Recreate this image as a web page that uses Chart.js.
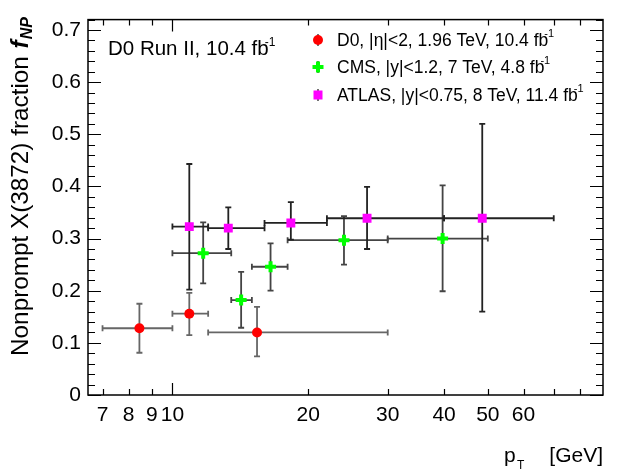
<!DOCTYPE html>
<html><head><meta charset="utf-8">
<script src="https://cdn.jsdelivr.net/npm/chart.js@4"></script>
<style>html,body{margin:0;padding:0;background:#fff}#c{display:block}</style>
</head><body>
<canvas id="c" width="628" height="472"></canvas>
<script>
// ---- data ----
const d0X = [8.45, 10.9, 15.4];
const d0XLo = [7, 10, 12];
const d0XHi = [10, 12, 30];
const d0Y = [0.128, 0.156, 0.120];
const d0YLo = [0.081, 0.115, 0.074];
const d0YHi = [0.175, 0.196, 0.169];

const cmsX = [11.7, 14.2, 16.5, 24.0, 39.7];
const cmsXLo = [10, 13.5, 15, 18, 30];
const cmsXHi = [13.5, 15, 18, 30, 50];
const cmsY = [0.272, 0.182, 0.246, 0.297, 0.300];
const cmsYLo = [0.214, 0.129, 0.200, 0.250, 0.199];
const cmsYHi = [0.331, 0.236, 0.291, 0.343, 0.402];

const atlasX = [10.9, 13.3, 18.3, 27.0, 48.6];
const atlasXLo = [10, 12, 16, 22, 40];
const atlasXHi = [12, 16, 22, 40, 70];
const atlasY = [0.323, 0.320, 0.330, 0.339, 0.339];
const atlasYLo = [0.202, 0.280, 0.298, 0.280, 0.160];
const atlasYHi = [0.443, 0.360, 0.370, 0.399, 0.520];

const xTickValues = [7, 8, 9, 10, 20, 30, 40, 50, 60, 70, 80];
const xTickLabels = ['7', '8', '9', '10', '20', '30', '40', '50', '60', '', ''];
const yMajorTicks = [0, 0.1, 0.2, 0.3, 0.4, 0.5, 0.6, 0.7];

const legendLabels = ['D0, |\u03B7|<2, 1.96 TeV, 10.4 fb', 'CMS, |y|<1.2, 7 TeV, 4.8 fb', 'ATLAS, |y|<0.75, 8 TeV, 11.4 fb'];
const headerText = 'D0 Run II, 10.4 fb';
const yTitle = 'Nonprompt X(3872) fraction ';

function pts(x, xl, xh, y, yl, yh) {
  return x.map((v, i) => ({x: v, y: y[i], xl: xl[i], xh: xh[i], yl: yl[i], yh: yh[i]}));
}

const FONT = '"Liberation Sans", Arial, sans-serif';

const errPlugin = {
  id: 'err',
  beforeDatasetsDraw(chart) {
    const {ctx, scales: {x, y}} = chart;
    ctx.save();
    chart.data.datasets.forEach((ds, di) => {
      ctx.strokeStyle = ds.errColor;
      ctx.lineWidth = 1.8;
      ds.data.forEach(p => {
        const px = x.getPixelForValue(p.x), py = y.getPixelForValue(p.y);
        const x1 = x.getPixelForValue(p.xl), x2 = x.getPixelForValue(p.xh);
        const y1 = y.getPixelForValue(p.yl), y2 = y.getPixelForValue(p.yh);
        ctx.beginPath();
        ctx.moveTo(x1, py); ctx.lineTo(x2, py);
        ctx.moveTo(px, y1); ctx.lineTo(px, y2);
        ctx.moveTo(x1, py - 3); ctx.lineTo(x1, py + 3);
        ctx.moveTo(x2, py - 3); ctx.lineTo(x2, py + 3);
        ctx.moveTo(px - 3, y1); ctx.lineTo(px + 3, y1);
        ctx.moveTo(px - 3, y2); ctx.lineTo(px + 3, y2);
        ctx.stroke();
      });
    });
    ctx.restore();
  },
  afterDraw(chart) {
    const {ctx, chartArea: a, scales: {x, y}} = chart;
    ctx.save();
    ctx.strokeStyle = '#000';
    ctx.lineWidth = 1.5;
    ctx.strokeRect(a.left, a.top, a.right - a.left, a.bottom - a.top);
    ctx.lineWidth = 1.2;
    ctx.beginPath();
    for (let v = 0; v <= 0.72 + 1e-9; v += 0.02) {
      const major = Math.abs(v * 10 - Math.round(v * 10)) < 1e-6;
      const len = major ? 13 : 7;
      const py = Math.round(y.getPixelForValue(v)) + 0.5;
      ctx.moveTo(a.left, py); ctx.lineTo(a.left + len, py);
      ctx.moveTo(a.right, py); ctx.lineTo(a.right - len, py);
    }
    xTickValues.forEach(v => {
      const len = v === 10 ? 12 : 6;
      const px = Math.round(x.getPixelForValue(v)) + 0.5;
      ctx.moveTo(px, a.bottom); ctx.lineTo(px, a.bottom - len);
      ctx.moveTo(px, a.top); ctx.lineTo(px, a.top + len);
    });
    ctx.stroke();

    ctx.fillStyle = '#000';
    ctx.textBaseline = 'alphabetic';
    ctx.font = '20.5px ' + FONT;
    ctx.textAlign = 'left';
    ctx.fillText(headerText, 108, 55);
    let w = ctx.measureText(headerText).width;
    ctx.font = '12px ' + FONT;
    ctx.fillText('-1', 108 + w - 4, 46);

    const ly = [40, 67, 95];
    const lx = 318;
    ctx.lineWidth = 1.5;
    ctx.strokeStyle = '#444';
    chart.data.datasets.forEach((ds, i) => {
      const cy = ly[i];
      ctx.beginPath();
      ctx.moveTo(lx, cy - 6); ctx.lineTo(lx, cy + 6);
      ctx.stroke();
      if (i === 0) {
        ctx.fillStyle = '#ff0000';
        ctx.beginPath(); ctx.arc(lx, cy, 5, 0, Math.PI * 2); ctx.fill();
      } else if (i === 1) {
        ctx.strokeStyle = '#00ff00'; ctx.lineWidth = 4;
        ctx.beginPath();
        ctx.moveTo(lx - 5.5, cy); ctx.lineTo(lx + 5.5, cy);
        ctx.moveTo(lx, cy - 5.5); ctx.lineTo(lx, cy + 5.5);
        ctx.stroke();
        ctx.strokeStyle = '#444'; ctx.lineWidth = 1.5;
      } else {
        ctx.fillStyle = '#ff00ff';
        ctx.fillRect(lx - 4.5, cy - 4.5, 9, 9);
      }
      ctx.fillStyle = '#000';
      ctx.font = '17.5px ' + FONT;
      ctx.fillText(legendLabels[i], 337, cy + 6);
      const tw = ctx.measureText(legendLabels[i]).width;
      ctx.font = '11px ' + FONT;
      ctx.fillText('-1', 337 + tw - 4, cy - 3);
    });

    ctx.save();
    ctx.translate(28, 17);
    ctx.rotate(-Math.PI / 2);
    ctx.textAlign = 'right';
    ctx.font = 'bold italic 16px ' + FONT;
    const subW = ctx.measureText('NP').width;
    ctx.fillText('NP', 0, 4);
    ctx.font = 'bold italic 24.5px ' + FONT;
    const fW = ctx.measureText('f').width;
    ctx.fillText('f', -subW - 1, 0);
    ctx.font = '24.3px ' + FONT;
    ctx.fillText(yTitle, -subW - fW - 2, 0);
    ctx.restore();

    ctx.textAlign = 'right';
    ctx.font = '21px ' + FONT;
    ctx.fillText('[GeV]', 603, 462);
    ctx.textAlign = 'left';
    ctx.fillText('p', 504, 462);
    ctx.font = '12px ' + FONT;
    ctx.fillText('T', 517, 469);
    ctx.restore();
  }
};

new Chart(document.getElementById('c'), {
  type: 'scatter',
  data: {
    datasets: [
      {label: 'D0', data: pts(d0X, d0XLo, d0XHi, d0Y, d0YLo, d0YHi), pointStyle: 'circle', radius: 5,
       backgroundColor: '#ff0000', borderColor: '#ff0000', borderWidth: 0, errColor: '#666'},
      {label: 'CMS', data: pts(cmsX, cmsXLo, cmsXHi, cmsY, cmsYLo, cmsYHi), pointStyle: 'cross', radius: 5.5,
       backgroundColor: '#00ff00', borderColor: '#00ff00', borderWidth: 4, errColor: '#444'},
      {label: 'ATLAS', data: pts(atlasX, atlasXLo, atlasXHi, atlasY, atlasYLo, atlasYHi), pointStyle: 'rect', radius: 6.3,
       backgroundColor: '#ff00ff', borderColor: '#ff00ff', borderWidth: 0, errColor: '#222'}
    ]
  },
  options: {
    responsive: false,
    animation: false,
    layout: {padding: {left: 0, top: 9, right: 25, bottom: 0}},
    plugins: {legend: {display: false}, tooltip: {enabled: false}},
    scales: {
      x: {
        type: 'logarithmic', min: 6.5, max: 90,
        grid: {display: false, drawTicks: false},
        border: {display: false},
        afterBuildTicks: s => { s.ticks = xTickValues.map(v => ({value: v})); },
        afterFit: s => { s.height = 77; },
        ticks: {
          autoSkip: false, maxRotation: 0, minRotation: 0, padding: 8,
          color: '#000', font: {family: FONT, size: 21},
          callback: (v, i) => xTickLabels[i]
        }
      },
      y: {
        type: 'linear', min: 0, max: 0.72,
        grid: {display: false, drawTicks: false},
        border: {display: false},
        afterBuildTicks: s => { s.ticks = yMajorTicks.map(v => ({value: v})); },
        afterFit: s => { s.width = 88; },
        ticks: {
          padding: 7, color: '#000', font: {family: FONT, size: 21},
          callback: v => (Math.abs(v) < 1e-9 ? '0' : (+v).toFixed(1))
        }
      }
    }
  },
  plugins: [errPlugin]
});
</script>
</body></html>
